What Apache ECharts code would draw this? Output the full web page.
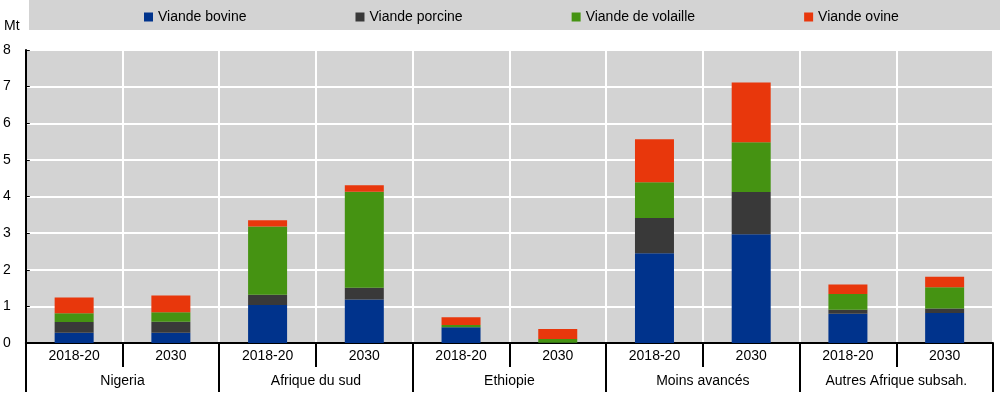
<!DOCTYPE html>
<html><head><meta charset="utf-8">
<script src="https://cdn.jsdelivr.net/npm/echarts@6/dist/echarts.min.js"></script>
<style>html,body{margin:0;padding:0;background:#fff}#c{width:1000px;height:400px}</style>
</head><body><div id="c"></div>
<script>
const periods = ['2018-20','2030','2018-20','2030','2018-20','2030','2018-20','2030','2018-20','2030'];
const groups = ['Nigeria','Afrique du sud','Ethiopie','Moins avancés','Autres Afrique subsah.'];
const seriesNames = ['Viande bovine','Viande porcine','Viande de volaille','Viande ovine'];
const bovine   = [0.28, 0.28, 1.04, 1.19, 0.43, 0.01, 2.45, 2.97, 0.80, 0.82];
const porcine  = [0.29, 0.30, 0.28, 0.32, 0.00, 0.00, 0.96, 1.15, 0.11, 0.12];
const volaille = [0.24, 0.26, 1.86, 2.62, 0.06, 0.10, 0.98, 1.36, 0.43, 0.58];
const ovine    = [0.43, 0.46, 0.17, 0.18, 0.21, 0.27, 1.17, 1.63, 0.26, 0.29];
const yTicks = [0,1,2,3,4,5,6,7,8];
const colors = ['#00338c','#393939','#459312','#e8370c'];
const values = [bovine, porcine, volaille, ovine];

const chart = echarts.init(document.getElementById('c'), null, {renderer:'canvas'});
const font = 'Liberation Sans, Arial, sans-serif';
chart.setOption({
  animation: false,
  textStyle: {fontFamily: font},
  graphic: [
    {type:'rect', left:29, top:0, shape:{width:971, height:30}, style:{fill:'#d3d3d3'}, z:-1},
    {type:'text', left:4, top:19, style:{text:'Mt', font:'14px ' + font, fill:'#000'}}
  ],
  legend: {
    left: 139, top: 5, itemWidth: 9, itemHeight: 9, itemGap: 109,
    icon: 'rect',
    textStyle: {fontSize: 14, color: '#000', fontFamily: font},
    data: seriesNames
  },
  grid: {left: 21, right: 7, top: 50, bottom: 57, show: true, backgroundColor: '#d3d3d3', borderWidth: 0},
  xAxis: [
    {type:'category', data: periods, position:'bottom',
     axisLine:{show:true, lineStyle:{color:'#000', width:2}},
     axisTick:{show:true, interval:0, length:24, lineStyle:{color:'#000', width:2}},
     splitLine:{show:true, interval:0, lineStyle:{color:'#fff', width:2}},
     axisLabel:{interval:0, color:'#000', fontSize:14, margin:6, fontFamily: font}},
    {type:'category', data: groups, position:'bottom',
     axisLine:{show:false},
     axisTick:{show:true, interval:0, length:49, lineStyle:{color:'#000', width:2}},
     splitLine:{show:false},
     axisLabel:{interval:0, color:'#000', fontSize:14, margin:31, fontFamily: font}}
  ],
  yAxis: {
    type:'value', min: yTicks[0], max: yTicks[yTicks.length-1], interval: 1,
    axisLine:{show:true, lineStyle:{color:'#000', width:2}},
    axisTick:{show:true, inside:true, length:4, lineStyle:{color:'#000', width:1}},
    splitLine:{show:true, lineStyle:{color:'#fff', width:2}},
    axisLabel:{color:'#000', fontSize:14, margin:15, fontFamily: font}
  },
  series: seriesNames.map((n,i)=>({
    name:n, type:'bar', stack:'s', xAxisIndex:0, barWidth:39,
    itemStyle:{color:colors[i]}, data: values[i]
  }))
});
</script></body></html>
